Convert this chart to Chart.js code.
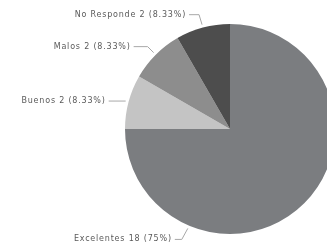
<!DOCTYPE html>
<html>
<head>
<meta charset="utf-8">
<script src="https://cdn.jsdelivr.net/npm/chart.js@4"></script>
<style>
  html, body { margin: 0; padding: 0; background: #fff; overflow: hidden; }
  #wrap { position: relative; width: 340px; height: 251px; }
</style>
</head>
<body>
<div id="wrap"><canvas id="pieChart"></canvas></div>
<script>
const categories = ['Excelentes', 'Buenos', 'Malos', 'No Responde'];
const counts = [18, 2, 2, 2];
const sliceColors = ['#7b7d80', '#c4c4c4', '#8d8d8d', '#4d4d4d'];

// where each callout leaves the pie (degrees clockwise from top) and how the line bends
const calloutShapes = [
    { angle: -157, rise: 11, run: -6, tail: 7 },
    { angle: -75, rise: 0, run: 0, tail: 17 },
    { angle: -45, rise: -6, run: -6, tail: 14 },
    { angle: -15, rise: -10, run: -3, tail: 10 },
];

const formatPct = (v) => {
    const s = v.toFixed(2);
    return s.replace(/\.?0+$/, '');
};

const calloutPlugin = {
    id: 'callouts',
    afterDraw(chart) {
        const ctx = chart.ctx;
        const meta = chart.getDatasetMeta(0);
        const total = counts.reduce((acc, val) => acc + val, 0);
        ctx.save();
        ctx.font = '8px "DejaVu Sans"';
        ctx.letterSpacing = '0.8px';
        ctx.textAlign = 'right';
        ctx.textBaseline = 'middle';
        meta.data.forEach((arc, i) => {
            const { x, y, outerRadius } = arc.getProps(['x', 'y', 'outerRadius'], true);
            const shape = calloutShapes[i];
            const a = shape.angle * Math.PI / 180;
            const r = outerRadius + 3;
            const ax = x + r * Math.sin(a);
            const ay = y - r * Math.cos(a);
            const ex = ax + shape.run;
            const ey = ay + shape.rise;
            const tx = ex - shape.tail;

            ctx.strokeStyle = '#a8a8a8';
            ctx.lineWidth = 1;
            ctx.beginPath();
            ctx.moveTo(ax, ay);
            ctx.lineTo(ex, ey);
            ctx.lineTo(tx, ey);
            ctx.stroke();

            const pct = formatPct(counts[i] / total * 100);
            ctx.fillStyle = '#5a5a5a';
            ctx.fillText(`${categories[i]} ${counts[i]} (${pct}%)`, tx - 3, ey);
        });
        ctx.restore();
    }
};

const chartCanvas = document.getElementById('pieChart').getContext('2d');

const pieChart = new Chart(chartCanvas, {
    type: 'pie',
    data: {
        labels: categories,
        datasets: [
            {
                data: counts,
                backgroundColor: sliceColors,
                borderWidth: 0,
            },
        ],
    },
    options: {
        responsive: true,
        maintainAspectRatio: false,
        animation: false,
        layout: {
            padding: { left: 125, right: 5, top: 24, bottom: 17 },
        },
        plugins: {
            legend: { display: false },
            tooltip: { enabled: false },
        },
    },
    plugins: [calloutPlugin],
});
</script>
</body>
</html>
